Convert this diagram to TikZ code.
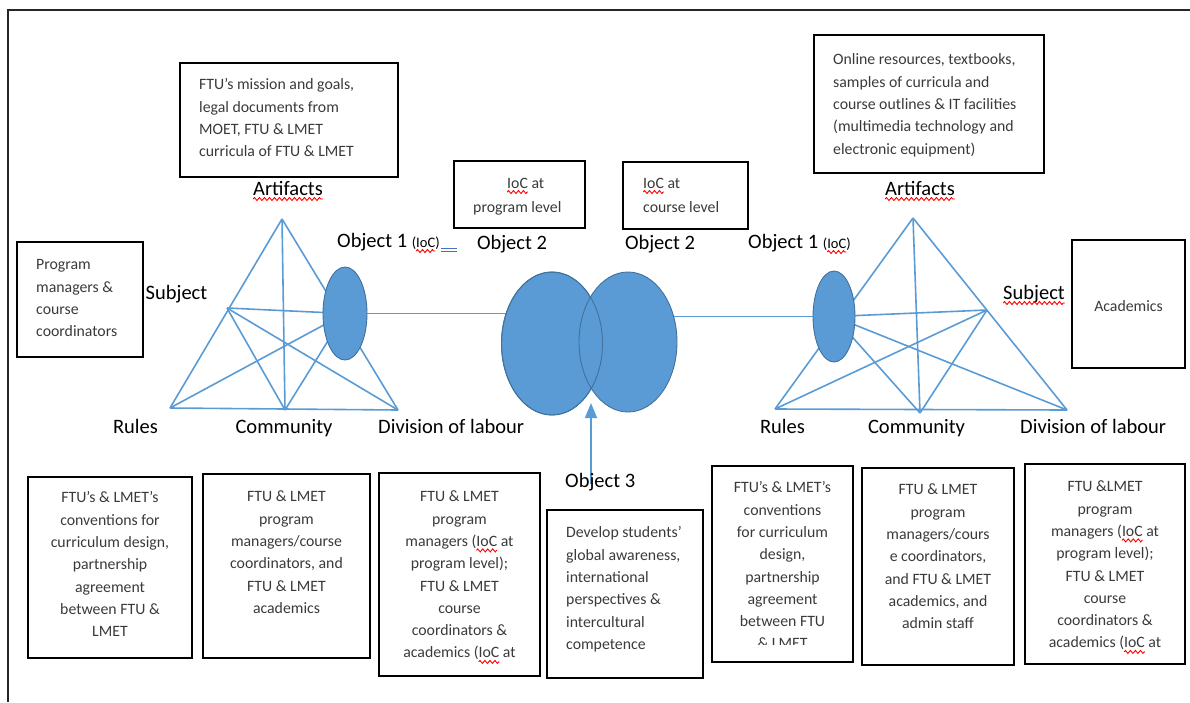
\documentclass[tikz,border=0pt]{standalone}
\usepackage{fontspec}
\setmainfont{Carlito}
\usetikzlibrary{shapes.geometric,arrows.meta,decorations.pathmorphing}

\definecolor{lineblue}{HTML}{5B9BD5}
\definecolor{fillblue}{HTML}{5B9BD5}
\definecolor{edgeblue}{HTML}{41719C}
\definecolor{txtgray}{HTML}{3A3A3A}
\definecolor{spellblue}{HTML}{4472C4}

% word with a red wavy underline (spell-check mark)
\newcommand\wavy[1]{\tikz[baseline=(w.base)]{%
  \node[inner sep=0pt, outer sep=0pt, draw=none, fill=none, anchor=base] (w) at (0,0) {#1};%
  \draw[overlay, red, line width=0.9pt, decorate,
        decoration={zigzag, amplitude=1.5pt, segment length=5pt}]
    ([yshift=-4pt]w.base west) -- ([yshift=-4pt]w.base east);}}

\tikzset{
  tri/.style={draw=lineblue, line width=1.6pt},
  box/.style={draw=black, line width=1.4pt, inner sep=0pt, outer sep=0pt},
  btext/.style={inner sep=0pt, text=txtgray, font=\fontsize{15.8}{22.3}\selectfont},
  lbl/.style={inner sep=0pt, text=black, font=\fontsize{20.5}{24}\selectfont},
  blob/.style={ellipse, fill=fillblue, draw=edgeblue, line width=0.9pt, inner sep=0pt, outer sep=0pt},
  rim/.style={ellipse, draw=edgeblue, line width=0.9pt, inner sep=0pt, outer sep=0pt},
}
\newcommand\smallioc{\fontsize{14.5}{17}\selectfont}

\begin{document}
\begin{tikzpicture}[x=1pt,y=-1pt]
\useasboundingbox (0,0) rectangle (1190,702);

% frame
\draw[line width=1.5pt, black!85] (1190,10) -- (8,10) -- (8,702);

% text boxes
\node[box, minimum width=218pt, minimum height=114pt] (artL) at (289,120) {};
\node[box, minimum width=230pt, minimum height=138pt] (artR) at (929,104) {};
\node[box, minimum width=126pt, minimum height=115pt] (subjL) at (80,299.5) {};
\node[box, minimum width=113pt, minimum height=128pt] (subjR) at (1128.5,304) {};
\node[box, minimum width=131pt, minimum height=67pt] (ob2L) at (519.5,194.5) {};
\node[box, minimum width=125pt, minimum height=67pt] (ob2R) at (685.5,195.5) {};
\node[box, minimum width=164pt, minimum height=181pt] (rulL) at (110,567.5) {};
\node[box, minimum width=167pt, minimum height=184pt] (comL) at (286.5,566) {};
\node[box, minimum width=161pt, minimum height=203pt] (divL) at (459.5,574.5) {};
\node[box, minimum width=156pt, minimum height=168pt] (ob3) at (625,594) {};
\node[box, minimum width=141pt, minimum height=196pt] (rulR) at (782.5,564) {};
\node[box, minimum width=152pt, minimum height=197pt] (comR) at (938,566.5) {};
\node[box, minimum width=160pt, minimum height=200pt] (divR) at (1105,564) {};

% activity system vertices
\coordinate (aL) at (282,219);
\coordinate (sL) at (227,308);
\coordinate (rL) at (170,408);
\coordinate (cL) at (285,410);
\coordinate (dL) at (398,410);
\coordinate (oL) at (345,313.5);

\coordinate (aR) at (913,218);
\coordinate (sR) at (987,310);
\coordinate (rR) at (775,409);
\coordinate (cR) at (920,413);
\coordinate (dR) at (1067,410);
\coordinate (oR) at (834,316.5);

\coordinate (bL) at (552,343.5);
\coordinate (bR) at (628,342);

% left triangle
\draw[tri] (aL) -- (rL);
\draw[tri] (aL) -- (dL);
\draw[tri] (rL) -- (dL);
\draw[tri] (aL) -- (cL);
\draw[tri] (sL) -- (oL);
\draw[tri] (sL) -- (cL);
\draw[tri] (sL) -- (dL);
\draw[tri] (rL) -- (oL);
\draw[tri] (cL) -- (oL);

% right triangle
\draw[tri] (aR) -- (rR);
\draw[tri] (aR) -- (dR);
\draw[tri] (rR) -- (dR);
\draw[tri] (aR) -- (cR);
\draw[tri] (oR) -- (sR);
\draw[tri] (oR) -- (cR);
\draw[tri] (oR) -- (dR);
\draw[tri] (sR) -- (rR);
\draw[tri] (sR) -- (cR);

% links between objects
\draw[tri] (oL) -- (oL -| bL);
\draw[tri] (oR) -- (oR -| bR);

% object ellipses
\node[blob, minimum width=44pt, minimum height=93pt] (objL) at (oL) {};
\node[blob, minimum width=42pt, minimum height=91pt] (objR) at (oR) {};
\node[blob, minimum width=101pt, minimum height=143pt] (obj2L) at (bL) {};
\node[blob, minimum width=98pt, minimum height=140pt] (obj2R) at (bR) {};
\node[rim, minimum width=101pt, minimum height=143pt] (obj2Lrim) at (bL) {};

% arrow from Object 3
\coordinate (o3foot) at (591,484);
\coordinate (o3tip) at (591,403);
\draw[lineblue, line width=1.5pt, -{Triangle[length=15pt,width=12pt]}] (o3foot) -- (o3tip);

% labels
\node[lbl, anchor=base] (tArtL) at (288,195) {\wavy{Artifacts}};
\node[lbl, anchor=base] (tArtR) at (920,195) {\wavy{Artifacts}};
\node[lbl, anchor=base] (tSubL) at (176.5,299) {Subject};
\node[lbl, anchor=base] (tSubR) at (1034,299) {\wavy{Subject}};
\node[lbl, anchor=base west] (tOb1L) at (337,247) {Object 1 {\smallioc(\wavy{IoC})}};
\node[lbl, anchor=base west] (tOb1R) at (748,248) {Object 1 {\smallioc(\wavy{IoC})}};
\node[lbl, anchor=base] (tOb2L) at (512,249) {Object 2};
\node[lbl, anchor=base] (tOb2R) at (660,249) {Object 2};
\node[lbl, anchor=base] (tRulL) at (135.5,433) {Rules};
\node[lbl, anchor=base] (tComL) at (284,433) {Community};
\node[lbl, anchor=base west] (tDivL) at (378,433) {Division of labour};
\node[lbl, anchor=base] (tRulR) at (782.5,433) {Rules};
\node[lbl, anchor=base] (tComR) at (916.5,433) {Community};
\node[lbl, anchor=base west] (tDivR) at (1020,433) {Division of labour};
\node[lbl, anchor=base west] (tOb3) at (565,487) {Object 3};

% blue double underline after the left (IoC)
\draw[spellblue, line width=0.8pt] (441,248) -- (457,248) (441,251.5) -- (457,251.5);

% box texts
\node[btext, anchor=north west, align=left] (xArtL) at (199,74)
  {\strut FTU’s mission and goals,\\legal documents from\\MOET, FTU \& LMET\\curricula of FTU \& LMET};
\node[btext, anchor=north west, align=left] (xArtR) at (833,49)
  {\strut Online resources, textbooks,\\samples of curricula and\\course outlines \& IT facilities\\(multimedia technology and\\electronic equipment)};
\node[btext, anchor=north west, align=left] (xSubL) at (36,254)
  {\strut Program\\managers \&\\course\\coordinators};
\node[btext, anchor=center] (xSubR) at (1128.5,306) {Academics};
\node[btext, anchor=north west, align=left, font=\fontsize{15.8}{24}\selectfont] (xOb2L) at (473,171)
  {\strut\hspace*{34pt}\wavy{IoC} at\\program level};
\node[btext, anchor=north west, align=left, font=\fontsize{15.8}{24}\selectfont] (xOb2R) at (643,171)
  {\strut\wavy{IoC} at\\course level};

\node[btext, anchor=north, align=center] (xRulL) at (110,487)
  {\strut FTU’s \& LMET’s\\conventions for\\curriculum design,\\partnership\\agreement\\between FTU \&\\LMET};
\node[btext, anchor=north, align=center] (xComL) at (286.5,486)
  {\strut FTU \& LMET\\program\\managers/course\\coordinators, and\\FTU \& LMET\\academics};
\node[btext, anchor=north, align=center] (xDivL) at (459.5,486)
  {\strut FTU \& LMET\\program\\managers (\wavy{IoC} at\\program level);\\FTU \& LMET\\course\\coordinators \&\\academics (\wavy{IoC} at};
\node[btext, anchor=north west, align=left] (xOb3) at (566,522)
  {\strut Develop students’\\global awareness,\\international\\perspectives \&\\intercultural\\competence};
\begin{scope}
  \clip (712,466) rectangle (853,644);
  \node[btext, anchor=north, align=center] (xRulR) at (782.5,477)
    {\strut FTU’s \& LMET’s\\conventions\\for curriculum\\design,\\partnership\\agreement\\between FTU\\\& LMET};
\end{scope}
\node[btext, anchor=north, align=center] (xComR) at (938,479)
  {\strut FTU \& LMET\\program\\managers/cours\\e coordinators,\\and FTU \& LMET\\academics, and\\admin staff};
\node[btext, anchor=north, align=center] (xDivR) at (1105,476)
  {\strut FTU \&LMET\\program\\managers (\wavy{IoC} at\\program level);\\FTU \& LMET\\course\\coordinators \&\\academics (\wavy{IoC} at};

\end{tikzpicture}
\end{document}
